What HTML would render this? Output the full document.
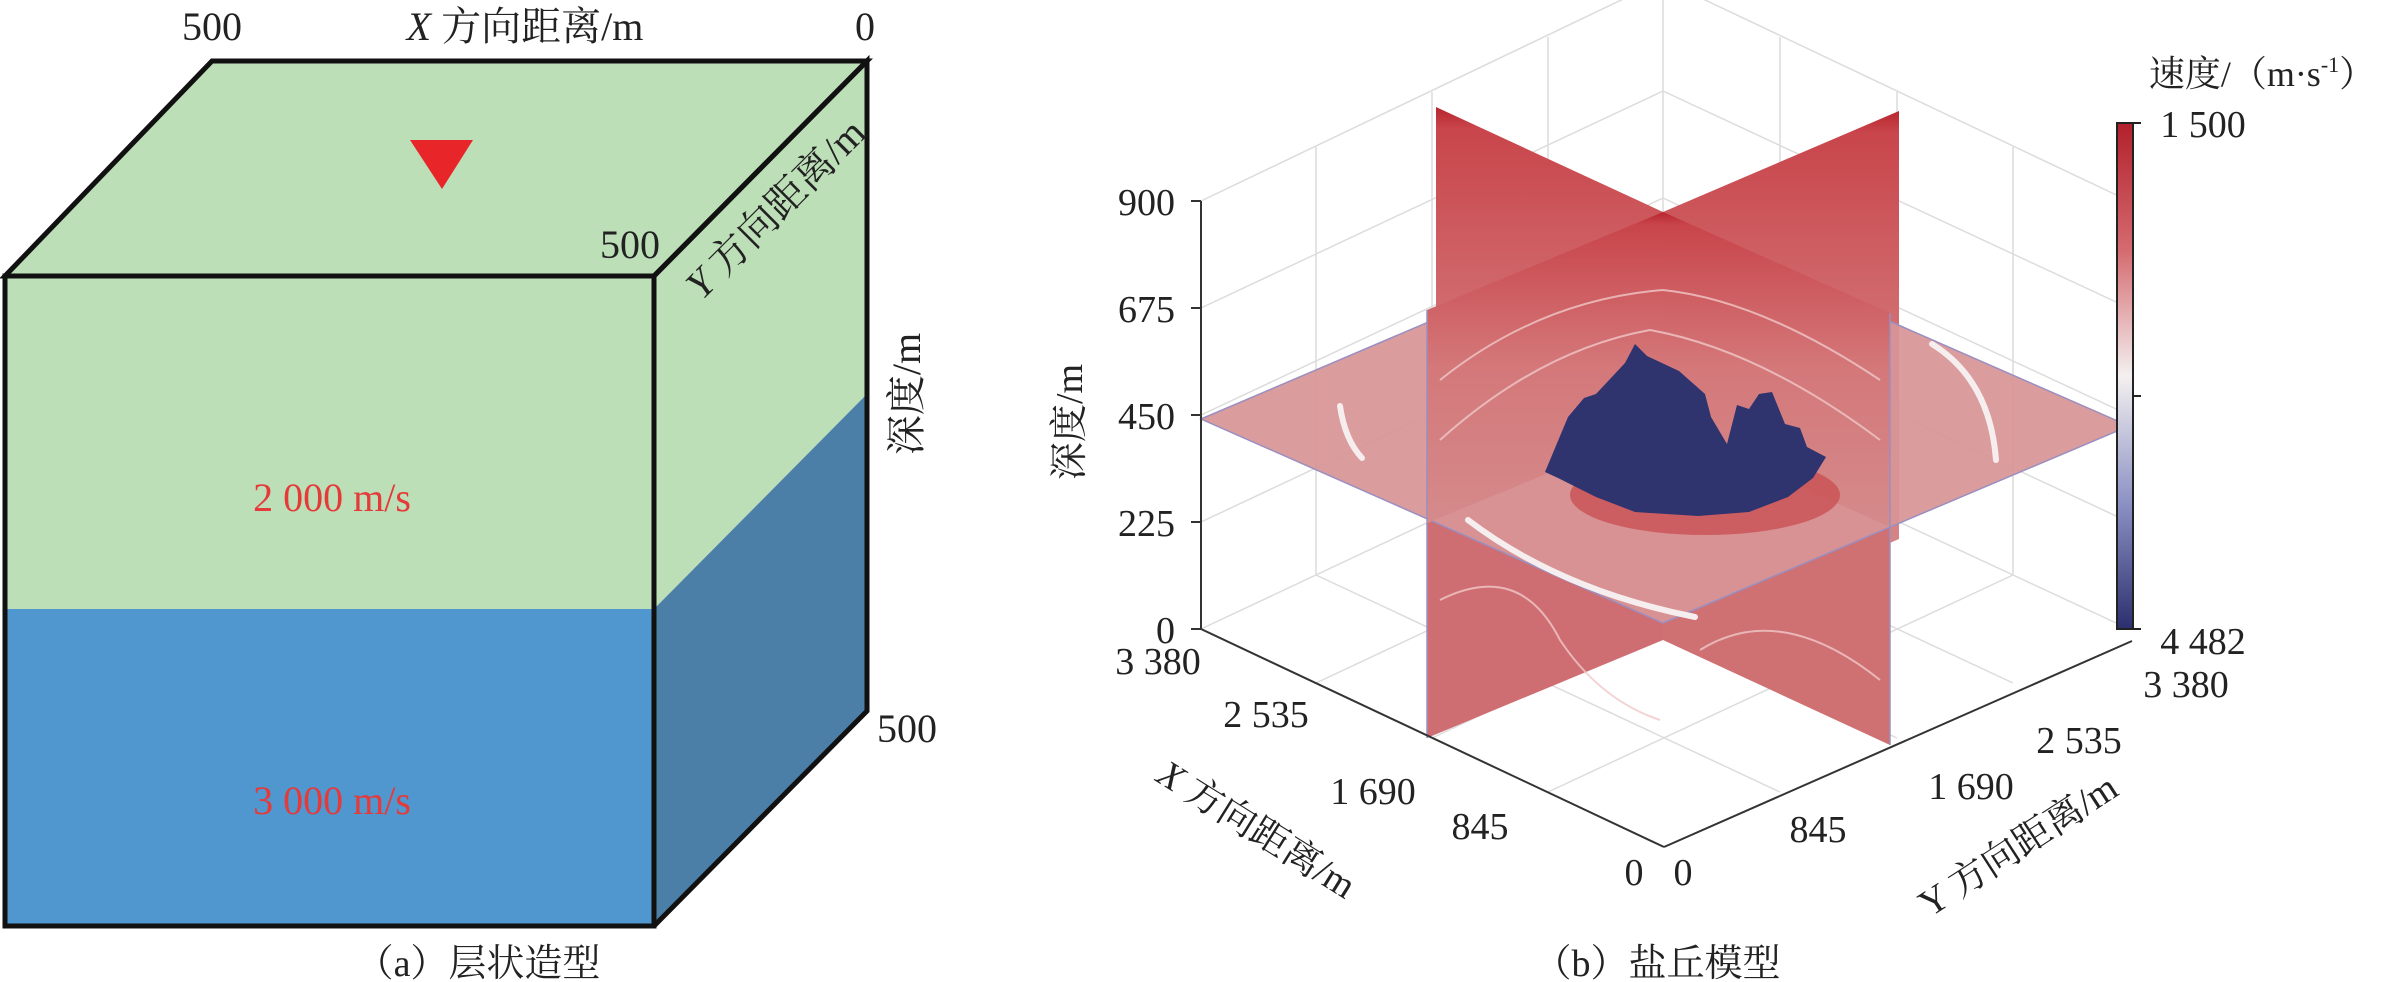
<!DOCTYPE html>
<html><head><meta charset="utf-8"><style>
html,body{margin:0;padding:0;background:#fff;}
svg{display:block;}
text{font-family:"Liberation Serif","Noto Serif CJK SC","Noto Sans CJK SC",serif;fill:#222;}
</style></head><body>
<svg width="2393" height="982" viewBox="0 0 2393 982" xmlns="http://www.w3.org/2000/svg">
<defs>
<linearGradient id="vg" x1="0" y1="0" x2="0" y2="1">
<stop offset="0" stop-color="#b8262e"/><stop offset="0.04" stop-color="#c8454b"/><stop offset="0.5" stop-color="#d4787a"/><stop offset="1" stop-color="#d58a8b"/>
</linearGradient>
<linearGradient id="cb" x1="0" y1="0" x2="0" y2="1">
<stop offset="0" stop-color="#b2202c"/><stop offset="0.25" stop-color="#d46a6f"/><stop offset="0.5" stop-color="#f4f0f0"/><stop offset="0.75" stop-color="#8c92c4"/><stop offset="1" stop-color="#2b2f6e"/>
</linearGradient>
</defs>

<!-- Left panel -->
<polygon points="5,276 212,61 867,61 654,276" fill="#bddfb8"/>
<polygon points="654,276 867,61 867,394 654,609" fill="#bddfb8"/>
<polygon points="654,609 867,394 867,711 654,926" fill="#4c7fa8"/>
<rect x="5" y="276" width="649" height="333" fill="#bddfb8"/>
<rect x="5" y="609" width="649" height="317" fill="#5096cf"/>
<g fill="none" stroke="#111" stroke-width="5" stroke-linejoin="miter">
<polygon points="5,276 212,61 867,61 654,276"/>
<rect x="5" y="276" width="649" height="650"/>
<polyline points="654,276 867,61 867,711 654,926"/>
</g>
<polygon points="410,140 473,140 442,189" fill="#e8262a"/>
<text x="212" y="40" font-size="40" text-anchor="middle">500</text>
<text x="525" y="40" font-size="40" text-anchor="middle"><tspan font-style="italic">X</tspan> 方向距离/m</text>
<text x="865" y="40" font-size="40" text-anchor="middle">0</text>
<text x="630" y="258" font-size="40" text-anchor="middle">500</text>
<text x="0" y="0" font-size="40" text-anchor="middle" transform="translate(785,218) rotate(-45)"><tspan font-style="italic">Y</tspan> 方向距离/m</text>
<text x="0" y="0" font-size="40" text-anchor="middle" transform="translate(920,394) rotate(-90)">深度/m</text>
<text x="907" y="742" font-size="40" text-anchor="middle">500</text>
<text x="332" y="511" font-size="40" text-anchor="middle" style="fill:#e53a3a">2 000 m/s</text>
<text x="332" y="814" font-size="40" text-anchor="middle" style="fill:#e53a3a">3 000 m/s</text>
<text x="478" y="976" font-size="38" text-anchor="middle">（a）层状造型</text>

<!-- Right panel: grid walls -->
<g stroke="#dcdcdc" stroke-width="1.5" fill="none">
<polyline points="1201,201 1663,-20 1663,412"/>
<polyline points="2129,201 1663,-20"/>
<line x1="1201" y1="629" x2="1663" y2="412"/>
<line x1="2129" y1="629" x2="1663" y2="412"/>
<line x1="2129" y1="201" x2="2129" y2="629"/>
<line x1="1201" y1="308" x2="1663" y2="91"/><line x1="1201" y1="415" x2="1663" y2="198"/><line x1="1201" y1="522" x2="1663" y2="305"/>
<line x1="2129" y1="308" x2="1663" y2="91"/><line x1="2129" y1="415" x2="1663" y2="198"/><line x1="2129" y1="522" x2="1663" y2="305"/>
<line x1="1316" y1="147" x2="1316" y2="575"/><line x1="1432" y1="92" x2="1432" y2="520"/><line x1="1548" y1="37" x2="1548" y2="466"/>
<line x1="2013" y1="147" x2="2013" y2="575"/><line x1="1897" y1="92" x2="1897" y2="520"/><line x1="1780" y1="37" x2="1780" y2="466"/>
<line x1="1316" y1="683" x2="1778" y2="466"/><line x1="1432" y1="738" x2="1894" y2="521"/><line x1="1548" y1="792" x2="2013" y2="575"/>
<line x1="2013" y1="683" x2="1548" y2="466"/><line x1="1897" y1="738" x2="1432" y2="521"/><line x1="1780" y1="792" x2="1316" y2="575"/>
</g>

<polygon points="1436,107 1663,212 1663,640 1436,535" fill="url(#vg)"/>
<polygon points="1899,111 1663,212 1663,640 1899,539" fill="url(#vg)"/>
<polygon points="1427,523 1663,426 1663,640 1427,738" fill="#cf6e72"/>
<polygon points="1890,527 1663,426 1663,640 1890,745" fill="#cf7073"/>
<polygon points="1201,419 1663,222 2129,426 1663,623" fill="#d89496" fill-opacity="0.93" stroke="#9a8fc0" stroke-width="1.5"/>
<polygon points="1427,310 1663,212 1663,426 1427,523" fill="url(#vg)"/>
<polygon points="1890,313 1663,212 1663,426 1890,527" fill="url(#vg)"/>
<line x1="1427" y1="310" x2="1427" y2="738" stroke="#9a8fc0" stroke-width="1.5"/>
<line x1="1890" y1="313" x2="1890" y2="745" stroke="#9a8fc0" stroke-width="1.5"/>
<g stroke="#f0c8c8" stroke-width="2" fill="none" opacity="0.8">
<path d="M1440,380 Q1540,300 1663,290 Q1760,300 1880,380"/>
<path d="M1440,440 Q1540,350 1650,330 Q1760,350 1880,440"/>
<path d="M1440,600 Q1520,560 1560,640 Q1600,700 1660,720"/>
<path d="M1700,650 Q1780,600 1880,680"/>
</g>
<g stroke="#f6eeee" stroke-width="6" fill="none" stroke-linecap="round">
<path d="M1340,406 Q1345,440 1362,458"/>
<path d="M1468,520 Q1560,590 1695,617"/>
<path d="M1932,344 Q1990,380 1996,460"/>
</g>
<ellipse cx="1705" cy="495" rx="135" ry="40" fill="#c8484c" opacity="0.7"/>
<polygon points="1545,472 1568,417 1584,398 1596,394 1625,363 1635,344 1647,356 1679,371 1705,394 1711,417 1727,444 1737,405 1749,409 1759,394 1772,392 1785,424 1800,428 1807,447 1826,457 1813,478 1788,497 1749,512 1698,516 1635,512 1596,497 1558,478" fill="#2f336e"/>

<g stroke="#333" stroke-width="2" fill="none">
<line x1="1201" y1="201" x2="1201" y2="629"/>
<line x1="1201" y1="629" x2="1664" y2="847"/>
<line x1="1664" y1="847" x2="2132" y2="641"/>
<line x1="1201" y1="201" x2="1191" y2="201"/><line x1="1201" y1="308" x2="1191" y2="308"/><line x1="1201" y1="415" x2="1191" y2="415"/><line x1="1201" y1="522" x2="1191" y2="522"/><line x1="1201" y1="629" x2="1191" y2="629"/>
</g>
<text x="1175" y="215" font-size="38" text-anchor="end">900</text>
<text x="1175" y="322" font-size="38" text-anchor="end">675</text>
<text x="1175" y="429" font-size="38" text-anchor="end">450</text>
<text x="1175" y="536" font-size="38" text-anchor="end">225</text>
<text x="1175" y="643" font-size="38" text-anchor="end">0</text>
<text x="0" y="0" font-size="38" text-anchor="middle" transform="translate(1082,422) rotate(-90)">深度/m</text>
<text x="1158" y="674" font-size="38" text-anchor="middle">3 380</text>
<text x="1266" y="727" font-size="38" text-anchor="middle">2 535</text>
<text x="1373" y="804" font-size="38" text-anchor="middle">1 690</text>
<text x="1480" y="839" font-size="38" text-anchor="middle">845</text>
<text x="1634" y="885" font-size="38" text-anchor="middle">0</text>
<text x="1683" y="885" font-size="38" text-anchor="middle">0</text>
<text x="1818" y="842" font-size="38" text-anchor="middle">845</text>
<text x="1971" y="799" font-size="38" text-anchor="middle">1 690</text>
<text x="2079" y="753" font-size="38" text-anchor="middle">2 535</text>
<text x="2186" y="697" font-size="38" text-anchor="middle">3 380</text>
<text x="0" y="0" font-size="38" text-anchor="middle" transform="translate(1250,840) rotate(32)"><tspan font-style="italic">X</tspan> 方向距离/m</text>
<text x="0" y="0" font-size="38" text-anchor="middle" transform="translate(2025,856) rotate(-33)">Y 方向距离/m</text>

<rect x="2117" y="123" width="16" height="506" fill="url(#cb)" stroke="#222" stroke-width="2"/>
<line x1="2133" y1="123" x2="2141" y2="123" stroke="#222" stroke-width="2"/>
<line x1="2133" y1="396" x2="2141" y2="396" stroke="#222" stroke-width="2"/>
<line x1="2133" y1="629" x2="2141" y2="629" stroke="#222" stroke-width="2"/>
<text x="2262" y="86" font-size="36" text-anchor="middle">速度/（m·s<tspan font-size="22" dy="-14">-1</tspan><tspan dy="14">）</tspan></text>
<text x="2203" y="137" font-size="38" text-anchor="middle">1 500</text>
<text x="2203" y="654" font-size="38" text-anchor="middle">4 482</text>
<text x="1657" y="976" font-size="38" text-anchor="middle">（b）盐丘模型</text>
</svg>
</body></html>
